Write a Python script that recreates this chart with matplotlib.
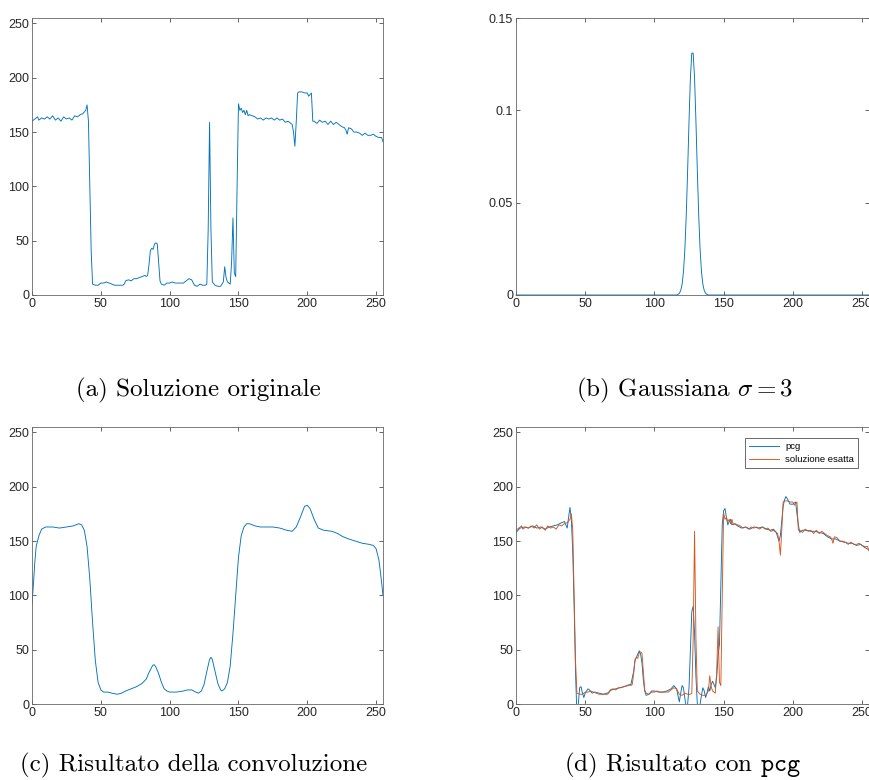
import numpy as np
import matplotlib
matplotlib.use('Agg')
import matplotlib.pyplot as plt

plt.rcParams['mathtext.fontset'] = 'cm'
plt.rcParams['font.family'] = ['Liberation Sans', 'DejaVu Sans']

# soluzione originale
orig_x = [0, 2, 4, 5, 7, 9, 11, 13, 15, 17, 19, 21, 23, 25, 27, 29, 31, 33, 35, 37, 39, 40,
          41, 42, 43, 44, 46, 48, 50, 52, 54, 56, 58, 60, 62, 64, 66, 67, 68, 70, 72, 74, 76,
          78, 80, 82, 83, 84, 85, 86, 87, 88, 89, 90, 91, 92, 93, 94, 96, 98, 100, 102, 104,
          106, 108, 110, 112, 114, 116, 118, 120, 122, 124, 126, 127, 128, 129, 130, 131, 133,
          135, 137, 139, 140, 141, 142, 143, 144, 145, 146, 147, 148, 149, 150, 151, 152, 153,
          154, 155, 156, 157, 158, 160, 162, 164, 166, 168, 170, 172, 174, 176, 178, 180, 182,
          184, 186, 188, 189, 190, 191, 192, 193, 194, 196, 198, 200, 201, 203, 204, 205, 207,
          209, 211, 213, 215, 217, 219, 221, 223, 225, 227, 228, 229, 230, 232, 234, 236, 238,
          240, 242, 244, 246, 248, 250, 252, 254, 255]
orig_y = [160, 162, 164, 161, 163, 162, 164, 162, 165, 161, 163, 160, 164, 162, 163, 161, 165,
          164, 166, 167, 170, 175, 160, 100, 40, 10, 9, 9, 11, 11, 12, 11, 10, 9, 9, 9, 9, 10,
          13, 14, 13, 15, 15, 16, 17, 18, 17, 18, 28, 41, 43, 42, 47, 48, 47, 30, 13, 10, 9,
          11, 11, 12, 11, 11, 11, 11, 13, 15, 14, 9, 8, 10, 9, 9, 10, 60, 159, 60, 12, 9, 8, 8,
          12, 26, 16, 12, 11, 10, 30, 71, 20, 17, 100, 176, 170, 172, 168, 170, 166, 170, 165,
          166, 165, 164, 162, 163, 161, 163, 162, 163, 161, 163, 161, 162, 159, 160, 158, 157,
          150, 137, 160, 186, 187, 187, 186, 186, 183, 186, 160, 160, 158, 161, 159, 160, 157,
          160, 157, 159, 157, 155, 154, 152, 148, 154, 153, 150, 150, 149, 147, 149, 147, 147,
          148, 146, 145, 145, 141]

# gaussiana sigma = 3
gauss_x = [0, 116, 117, 118, 119, 120, 121, 122, 123, 124, 125, 126, 127, 128, 129, 130, 131,
           132, 133, 134, 135, 136, 137, 138, 139, 255]
gauss_y = [0, 0, 0.0003, 0.0009, 0.0024, 0.0058, 0.0127, 0.0248, 0.0432, 0.0674, 0.0941,
           0.1175, 0.131, 0.131, 0.1175, 0.0941, 0.0674, 0.0432, 0.0248, 0.0127, 0.0058,
           0.0024, 0.0009, 0.0003, 0, 0]

# risultato della convoluzione
conv_x = [0, 1, 2, 3, 5, 7, 10, 15, 20, 25, 30, 34, 36, 38, 40, 42, 44, 46, 48, 50, 52, 55, 58,
          62, 65, 68, 72, 76, 80, 83, 85, 87, 88, 89, 90, 92, 94, 96, 98, 100, 105, 110, 113,
          116, 119, 121, 123, 125, 127, 129, 130, 131, 133, 135, 137, 138, 140, 142, 144, 146,
          148, 150, 152, 154, 156, 158, 162, 166, 170, 175, 180, 185, 189, 192, 195, 198, 200,
          202, 205, 208, 212, 218, 222, 226, 230, 235, 240, 245, 248, 250, 252, 253, 254, 255]
conv_y = [92, 110, 130, 145, 155, 161, 163, 163, 162, 163, 164, 166, 165, 160, 145, 115, 75, 40,
          20, 13, 11, 11, 10, 9, 10, 12, 14, 16, 19, 23, 29, 34, 36, 36, 34, 28, 20, 14, 12, 11,
          11, 12, 13, 13, 11, 10, 12, 18, 30, 41, 43, 41, 30, 19, 13, 12, 14, 20, 35, 65, 100,
          135, 155, 163, 166, 166, 164, 163, 163, 163, 162, 160, 159, 163, 172, 182, 183, 180,
          170, 162, 160, 159, 157, 154, 152, 150, 148, 147, 146, 143, 133, 123, 112, 100]

# risultato pcg
pcg_x = [0, 3, 6, 9, 12, 15, 18, 21, 24, 27, 30, 33, 35, 36, 37, 38, 39, 40, 41, 42, 43, 44, 45,
         46, 47, 48, 49, 50, 52, 53, 55, 57, 60, 63, 66, 69, 72, 75, 78, 81, 83, 85, 86, 88, 89,
         90, 91, 92, 93, 94, 96, 98, 100, 103, 106, 109, 112, 114, 116, 117, 118, 119, 120, 121,
         122, 123, 124, 125, 126, 127, 128, 129, 130, 131, 132, 133, 134, 135, 136, 137, 138,
         139, 140, 141, 142, 143, 144, 145, 146, 147, 148, 149, 150, 151, 152, 153, 154, 155,
         156, 158, 160, 163, 166, 169, 172, 175, 178, 181, 184, 186, 188, 190, 191, 192, 193,
         194, 195, 196, 198, 200, 202, 203, 204, 205, 207, 210, 213, 216, 219, 222, 225, 228,
         231, 234, 237, 240, 243, 246, 249, 252, 255]
pcg_y = [158, 162, 163, 162, 164, 162, 163, 161, 163, 164, 165, 167, 168, 165, 162, 172, 181,
         170, 140, 90, 30, -10, 0, 15, 16, 10, 6, 10, 14, 13, 10, 11, 10, 9, 10, 13, 14, 15, 16,
         17, 18, 30, 40, 46, 49, 46, 38, 22, 12, 8, 9, 12, 12, 11, 11, 12, 14, 17, 14, 8, 2, 10,
         17, 15, 5, -3, 0, 15, 50, 85, 90, 65, 25, 0, -5, 0, 8, 15, 12, 6, 10, 16, 12, 18, 21,
         18, 15, 25, 45, 55, 110, 165, 178, 180, 172, 165, 168, 170, 165, 166, 164, 162, 163,
         161, 163, 162, 163, 161, 160, 161, 158, 150, 155, 168, 182, 188, 191, 189, 184, 184,
         186, 175, 165, 158, 160, 160, 159, 159, 158, 157, 154, 152, 152, 150, 149, 148, 148,
         146, 147, 144, 142]

blu = '#0072BD'
arancio = '#D95319'
grigio = '#262626'

didascalie = [r'(a) Soluzione originale', r'(b) Gaussiana $\sigma = 3$',
              r'(c) Risultato della convoluzione', r'(d) Risultato con $\mathtt{pcg}$']

fig = plt.figure(figsize=(8.7, 7.8), dpi=100)

def stile(ax, ylim, yticks):
    ax.set_xlim(0, 255)
    ax.set_ylim(*ylim)
    ax.set_xticks([0, 50, 100, 150, 200, 250])
    ax.set_yticks(yticks)
    ax.tick_params(direction='in', length=3, width=0.5, top=True, right=True,
                   labelsize=9, colors=grigio, pad=2)
    for s in ax.spines.values():
        s.set_linewidth(0.6)
        s.set_color('#666666')

w, h = 0.4034, 0.3551
ax_a = fig.add_axes([0.0368, 0.6218, w, h])
ax_b = fig.add_axes([0.5931, 0.6218, 0.4057, h])
ax_c = fig.add_axes([0.0368, 0.0974, w, h])
ax_d = fig.add_axes([0.5931, 0.0974, 0.4057, h])

lw = 0.65
ax_a.plot(orig_x, orig_y, color=blu, lw=lw)
stile(ax_a, (0, 255), [0, 50, 100, 150, 200, 250])

ax_b.plot(gauss_x, gauss_y, color=blu, lw=lw, clip_on=False)
stile(ax_b, (0, 0.15), [0, 0.05, 0.1, 0.15])
ax_b.set_yticklabels(['0', '0.05', '0.1', '0.15'])

ax_c.plot(conv_x, conv_y, color=blu, lw=lw)
stile(ax_c, (0, 255), [0, 50, 100, 150, 200, 250])

ax_d.plot(pcg_x, pcg_y, color=blu, lw=lw, label='pcg')
ax_d.plot(orig_x, orig_y, color=arancio, lw=lw, label='soluzione esatta')
stile(ax_d, (0, 255), [0, 50, 100, 150, 200, 250])
leg = ax_d.legend(loc='upper right', fontsize=6.8, frameon=True, fancybox=False,
                  edgecolor=grigio, handlelength=3.2, borderpad=0.4, labelspacing=0.4,
                  handletextpad=0.6, borderaxespad=1.2)
leg.get_frame().set_linewidth(0.6)

pos = [(0.228, 0.500), (0.787, 0.500), (0.222, 0.019), (0.785, 0.019)]
for (px, py), t in zip(pos, didascalie):
    fig.text(px, py, t, ha='center', va='center', fontsize=18, family='cmr10')

fig.savefig('out.png', dpi=100)
